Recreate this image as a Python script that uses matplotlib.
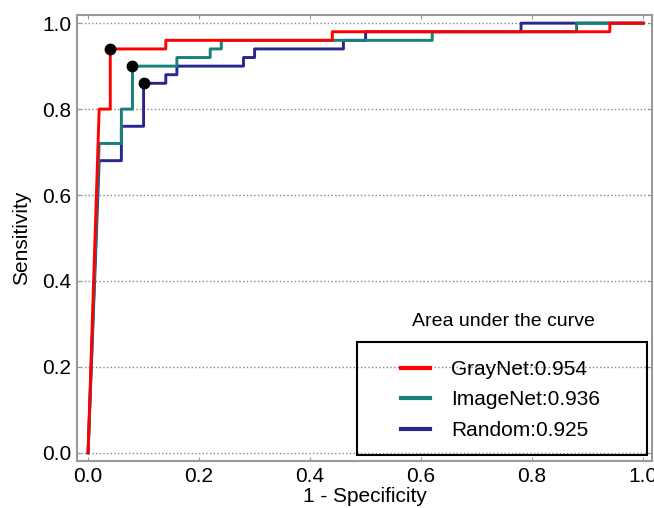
import matplotlib
matplotlib.use("Agg")
import matplotlib.pyplot as plt
from matplotlib.patches import Rectangle

plt.rcParams["font.family"] = ["Liberation Sans", "DejaVu Sans"]

# ROC points (1 - specificity, sensitivity)
gray_fpr = [0.0, 0.02, 0.04, 0.04, 0.14, 0.14, 0.44, 0.44, 0.94, 0.94, 1.0]
gray_tpr = [0.0, 0.80, 0.80, 0.94, 0.94, 0.96, 0.96, 0.98, 0.98, 1.0, 1.0]
imnet_fpr = [0.0, 0.02, 0.06, 0.06, 0.08, 0.08, 0.16, 0.16, 0.22, 0.22, 0.24, 0.24,
             0.62, 0.62, 0.88, 0.88, 1.0]
imnet_tpr = [0.0, 0.72, 0.72, 0.80, 0.80, 0.90, 0.90, 0.92, 0.92, 0.94, 0.94, 0.96,
             0.96, 0.98, 0.98, 1.0, 1.0]
rand_fpr = [0.0, 0.02, 0.06, 0.06, 0.10, 0.10, 0.14, 0.14, 0.16, 0.16, 0.28, 0.28,
            0.30, 0.30, 0.46, 0.46, 0.50, 0.50, 0.78, 0.78, 1.0]
rand_tpr = [0.0, 0.68, 0.68, 0.76, 0.76, 0.86, 0.86, 0.88, 0.88, 0.90, 0.90, 0.92,
            0.92, 0.94, 0.94, 0.96, 0.96, 0.98, 0.98, 1.0, 1.0]
# operating points (black dots)
op_fpr = [0.04, 0.08, 0.10]
op_tpr = [0.94, 0.90, 0.86]

names = ["GrayNet", "ImageNet", "Random"]
aucs = [0.954, 0.936, 0.925]
colors = ["#ff0000", "#17807a", "#27278f"]
curves = [(gray_fpr, gray_tpr), (imnet_fpr, imnet_tpr), (rand_fpr, rand_tpr)]

fig = plt.figure(figsize=(6.54, 5.08), dpi=100)
ax = fig.add_axes([0.1177, 0.0925, 0.8793, 0.878])

for i, ((fx, fy), nm, auc, col) in enumerate(zip(curves, names, aucs, colors)):
    ax.plot(fx, fy, color=col, lw=2.1, zorder=4 - i, label="%s:%.3f" % (nm, auc))
ax.plot(op_fpr, op_tpr, "o", color="black", ms=7.5, zorder=6)

ax.set_xlim(-0.02, 1.016)
ax.set_ylim(-0.019, 1.019)
ax.set_xticks([0.0, 0.2, 0.4, 0.6, 0.8, 1.0])
ax.set_yticks([0.0, 0.2, 0.4, 0.6, 0.8, 1.0])
ax.yaxis.grid(True, ls=":", color="#888888", lw=1)
ax.tick_params(direction="in", length=3, color="#999999", labelsize=15,
               top=True, right=True, pad=4)
for s in ax.spines.values():
    s.set_color("#999999")
    s.set_linewidth(1.5)
ax.set_xlabel("1 - Specificity", fontsize=15, labelpad=1)
ax.set_ylabel("Sensitivity", fontsize=15, labelpad=8)

# legend: box drawn separately, title sits above the box
box = Rectangle((0.487, 0.0135), 0.504, 0.2535, transform=ax.transAxes,
                fill=False, edgecolor="black", lw=1.5, zorder=7)
ax.add_patch(box)
leg = ax.legend(loc="center", bbox_to_anchor=(0.737, 0.137), frameon=False,
                fontsize=15, handlelength=1.4, handletextpad=1.0, labelspacing=0.55)
for ln in leg.get_lines():
    ln.set_linewidth(3)
ax.text(0.741, 0.303, "Area under the curve", transform=ax.transAxes,
        ha="center", va="baseline", fontsize=14)

fig.savefig("out.png", dpi=100)
